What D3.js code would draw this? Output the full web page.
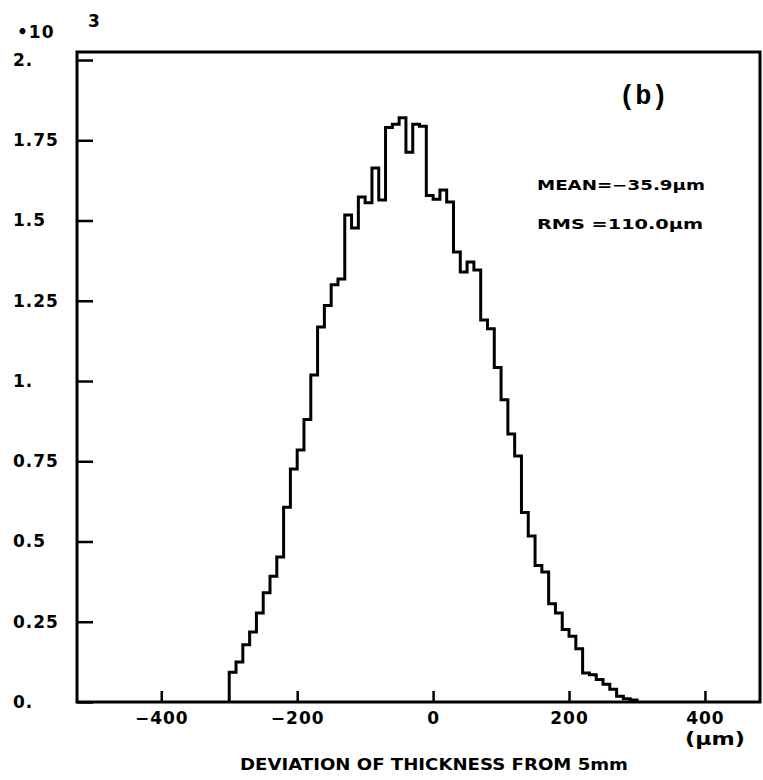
<!DOCTYPE html>
<html>
<head>
<meta charset="utf-8">
<script src="https://cdn.jsdelivr.net/npm/d3@7"></script>
<style>
  html, body { margin: 0; padding: 0; background: #fff; }
  svg { display: block; }
  text { font-family: "DejaVu Sans", sans-serif; font-weight: bold; fill: #000; }
</style>
</head>
<body>
<svg id="chart" width="763" height="780"></svg>
<script>
// Entries per 10 µm bin, in units of 10^3, bins from -300 µm to +300 µm
const binLow = -300;
const binWidth = 10;
const counts = [
  0.093, 0.125, 0.178, 0.218, 0.277, 0.340, 0.392, 0.452, 0.607, 0.726,
  0.785, 0.880, 1.019, 1.168, 1.235, 1.300, 1.318, 1.517, 1.477, 1.573,
  1.555, 1.664, 1.564, 1.790, 1.800, 1.820, 1.713, 1.800, 1.794, 1.578,
  1.566, 1.595, 1.558, 1.402, 1.340, 1.371, 1.346, 1.190, 1.163, 1.042,
  0.942, 0.835, 0.766, 0.590, 0.517, 0.425, 0.405, 0.306, 0.277, 0.226,
  0.205, 0.166, 0.090, 0.085, 0.070, 0.055, 0.040, 0.018, 0.010, 0.006
];

const xDomain = [-524, 481];
const yDomain = [0, 2.025];
const xTicks = [-400, -200, 0, 200, 400];
const xTickLabels = ["\u2212400", "\u2212200", "0", "200", "400"];
const yTicks = [0, 0.25, 0.5, 0.75, 1, 1.25, 1.5, 1.75, 2];
const yTickLabels = ["0.", "0.25", "0.5", "0.75", "1.", "1.25", "1.5", "1.75", "2."];

const meanText = "MEAN=\u221235.9\u00b5m";
const rmsText = "RMS =110.0\u00b5m";
const panelLabel = "(b)";
const xTitle = "DEVIATION OF THICKNESS FROM 5mm";

const svg = d3.select("#chart");
const plotLeft = 77, plotRight = 760, plotTop = 52, plotBottom = 702;

const x = d3.scaleLinear().domain(xDomain).range([plotLeft, plotRight]);
const y = d3.scaleLinear().domain(yDomain).range([plotBottom, plotTop]);

// histogram outline as a step line, closed down to zero at both ends
const pts = [[binLow, 0]];
counts.forEach((c, i) => pts.push([binLow + i * binWidth, c]));
pts.push([binLow + counts.length * binWidth, counts[counts.length - 1]]);
pts.push([binLow + counts.length * binWidth, 0]);

const step = d3.line()
  .x(d => x(d[0]))
  .y(d => y(d[1]))
  .curve(d3.curveStepAfter);

svg.append("path")
  .attr("d", step(pts))
  .attr("fill", "none")
  .attr("stroke", "#000")
  .attr("stroke-width", 3)
  .attr("stroke-linejoin", "miter");

// bottom axis: inward ticks
const xAxis = svg.append("g")
  .attr("transform", `translate(0,${plotBottom})`)
  .call(d3.axisBottom(x)
    .tickValues(xTicks)
    .tickSize(-11)
    .tickPadding(10)
    .tickFormat((d, i) => xTickLabels[i]));
xAxis.select(".domain").remove();
xAxis.selectAll(".tick line").attr("stroke", "#000").attr("stroke-width", 2.5);
xAxis.selectAll(".tick text")
  .attr("font-size", 17)
  .style("font-family", "DejaVu Sans, sans-serif")
  .style("font-weight", "bold")
  .attr("letter-spacing", 1);

// left axis: inward ticks, labels set flush left
const yAxis = svg.append("g")
  .attr("transform", `translate(${plotLeft},0)`)
  .call(d3.axisLeft(y)
    .tickValues(yTicks)
    .tickSize(-16)
    .tickFormat((d, i) => yTickLabels[i]));
yAxis.select(".domain").remove();
yAxis.selectAll(".tick line").attr("stroke", "#000").attr("stroke-width", 2.5);
yAxis.selectAll(".tick text")
  .attr("x", 13 - plotLeft)
  .attr("text-anchor", "start")
  .attr("font-size", 17)
  .style("font-family", "DejaVu Sans, sans-serif")
  .style("font-weight", "bold")
  .attr("letter-spacing", 1);

// frame
svg.append("rect")
  .attr("x", plotLeft).attr("y", plotTop)
  .attr("width", plotRight - plotLeft).attr("height", plotBottom - plotTop)
  .attr("fill", "none")
  .attr("stroke", "#000")
  .attr("stroke-width", 3);

// scale factor of the y axis
svg.append("text").attr("x", 17).attr("y", 38).attr("font-size", 17)
  .attr("letter-spacing", 1).text("\u202210");
svg.append("text").attr("x", 88).attr("y", 27).attr("font-size", 17).text("3");

// panel label and statistics
svg.append("text").attr("x", 619).attr("y", 104)
  .style("font-family", "'Liberation Mono', monospace")
  .style("font-weight", "bold")
  .attr("font-size", 27).text(panelLabel);
svg.append("text").attr("x", 537).attr("y", 190).attr("font-size", 14)
  .attr("textLength", 168).attr("lengthAdjust", "spacingAndGlyphs").text(meanText);
svg.append("text").attr("x", 537).attr("y", 229).attr("font-size", 14)
  .attr("textLength", 166).attr("lengthAdjust", "spacingAndGlyphs").text(rmsText);

// axis title and unit
svg.append("text").attr("x", 685).attr("y", 745).attr("font-size", 17)
  .attr("textLength", 60).attr("lengthAdjust", "spacingAndGlyphs").text("(\u00b5m)");
svg.append("text").attr("x", 240).attr("y", 770).attr("font-size", 15)
  .attr("textLength", 388).attr("lengthAdjust", "spacingAndGlyphs").text(xTitle);
</script>
</body>
</html>
